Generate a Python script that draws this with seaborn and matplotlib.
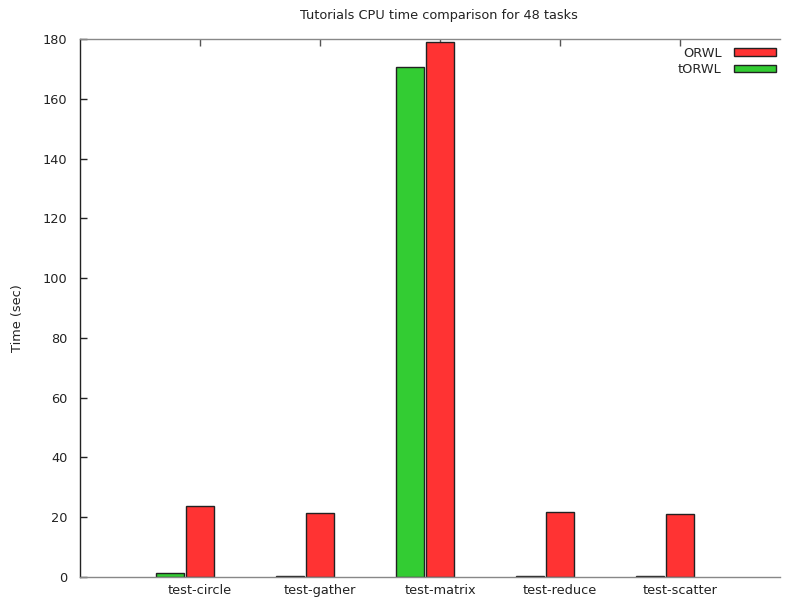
import matplotlib
matplotlib.use("Agg")
import matplotlib.pyplot as plt
from matplotlib.patches import Patch
import seaborn as sns
import pandas as pd

tests = ["test-circle", "test-gather", "test-matrix", "test-reduce", "test-scatter"]
orwl = [23.7, 21.5, 178.9, 21.7, 21.0]
torwl = [1.5, 0.4, 170.5, 0.4, 0.4]
yticks = list(range(0, 181, 20))

RED = "#ff3333"
GREEN = "#33cc33"
FS = 9.3

df = pd.DataFrame({
    "test": tests * 2,
    "impl": ["tORWL"] * len(tests) + ["ORWL"] * len(tests),
    "time": torwl + orwl,
})

sns.set_style("white")
plt.rcParams["font.family"] = ["DejaVu Sans"]

fig = plt.figure(figsize=(7.93, 6.04), dpi=100)
ax = fig.add_axes([80 / 793, 1 - 577 / 604, 700 / 793, 538 / 604])

sns.barplot(data=df, x="test", y="time", hue="impl", hue_order=["tORWL", "ORWL"],
            palette={"tORWL": GREEN, "ORWL": RED}, width=0.5, gap=0.08,
            edgecolor="#222222", linewidth=1.0, saturation=1, ax=ax, legend=False)

n = len(tests)
ax.set_xlim(-0.875, 4.958)
ax.set_ylim(0, 180)
ax.set_xticks([i + 0.125 for i in range(n)])
ax.set_xticklabels(tests, fontsize=FS, color="#222222")
ax.set_yticks(yticks)
ax.set_yticklabels([str(v) for v in yticks], fontsize=FS, color="#222222")
ax.set_xlabel("")
ax.set_ylabel("")

ax.tick_params(axis="x", bottom=False, top=True, labelbottom=True, labeltop=False,
               direction="in", length=5, width=1, color="#555555", pad=5)
ax.tick_params(axis="y", left=True, right=False, direction="in", length=5, width=1,
               color="#222222", pad=9)

ax.spines["left"].set_color("#222222")
for side in ["top", "bottom"]:
    ax.spines[side].set_color("#888888")
ax.spines["right"].set_visible(False)
for s in ax.spines.values():
    s.set_linewidth(1.0)

fig.text(18 / 793, 1 - 318 / 604, "Time (sec)", rotation=90, ha="center", va="center",
         fontsize=FS, color="#222222")
fig.text(439 / 793, 1 - 15 / 604, "Tutorials CPU time comparison for 48 tasks",
         ha="center", va="center", fontsize=FS, color="#222222")

handles = [Patch(facecolor=RED, edgecolor="#222222", linewidth=1.0),
           Patch(facecolor=GREEN, edgecolor="#222222", linewidth=1.0)]
ax.legend(handles, ["ORWL", "tORWL"], loc="upper right", markerfirst=False,
          frameon=False, fontsize=FS, handlelength=3.2, handleheight=0.55,
          handletextpad=1.0, labelspacing=0.25, borderaxespad=0.2,
          bbox_to_anchor=(1.005, 1.0))

fig.savefig("out.png", dpi=100)
